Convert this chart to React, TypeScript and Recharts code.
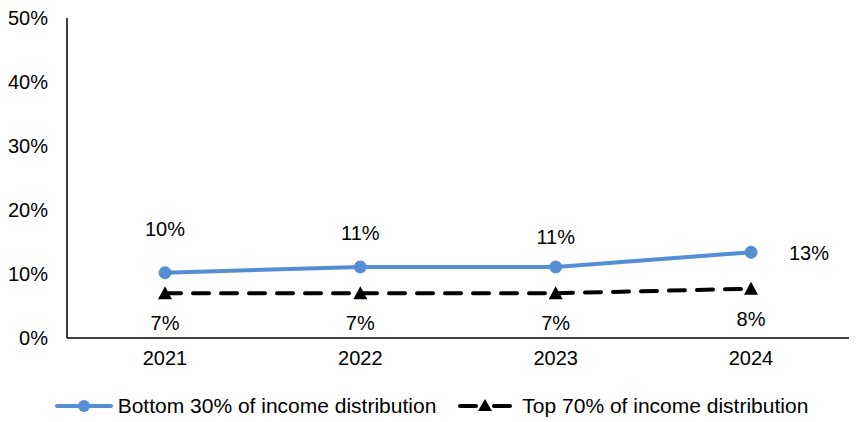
import React from 'react';
import { LineChart, Line, XAxis, YAxis, Legend, LabelList } from 'recharts';

const years = ['2021', '2022', '2023', '2024'];
const bottom30 = [10.2, 11.1, 11.1, 13.4];
const top70 = [7.0, 7.0, 7.0, 7.7];
const yTicks = [0, 10, 20, 30, 40, 50];

const BLUE = '#558ED5';
const FONT = '"Liberation Sans", Arial, sans-serif';

const data = years.map((year, i) => ({ year, bottom: bottom30[i], top: top70[i] }));

// how far above the point each blue label sits (the last one sits to the right)
const aboveGap = [44, 34, 30];

const Triangle = (props: any) => {
  const { cx, cy, size = 7 } = props;
  if (cx == null || cy == null) return null;
  return (
    <polygon
      points={`${cx},${cy - size} ${cx + size},${cy + size * 0.85} ${cx - size},${cy + size * 0.85}`}
      fill="#000"
    />
  );
};

const bottomLabel = (props: any) => {
  const { x, y, value, index } = props;
  const last = index === years.length - 1;
  return (
    <text
      x={last ? x + 38 : x}
      y={last ? y + 1 : y - (aboveGap[index] ?? 40)}
      textAnchor={last ? 'start' : 'middle'}
      dominantBaseline="central"
      fontSize={20}
      fontFamily={FONT}
      fill="#000"
    >
      {Math.round(value)}%
    </text>
  );
};

const topLabel = (props: any) => {
  const { x, y, value } = props;
  return (
    <text x={x} y={y + 30} textAnchor="middle" dominantBaseline="central" fontSize={20} fontFamily={FONT} fill="#000">
      {Math.round(value)}%
    </text>
  );
};

const LegendContent = () => (
  <div style={{ display: 'flex', justifyContent: 'center', alignItems: 'center', height: 30, marginTop: 13, paddingLeft: 14, fontFamily: FONT, fontSize: 21, color: '#000' }}>
    <svg width={58} height={20} style={{ marginRight: 5 }}>
      <line x1={2} y1={10} x2={56} y2={10} stroke={BLUE} strokeWidth={4} strokeLinecap="round" />
      <circle cx={29} cy={10} r={6} fill={BLUE} />
    </svg>
    <span>Bottom 30% of income distribution</span>
    <svg width={54} height={20} style={{ marginLeft: 22, marginRight: 10 }}>
      <line x1={2} y1={10} x2={18} y2={10} stroke="#000" strokeWidth={4} strokeLinecap="round" />
      <line x1={36} y1={10} x2={52} y2={10} stroke="#000" strokeWidth={4} strokeLinecap="round" />
      <polygon points="27,3 34,15 20,15" fill="#000" />
    </svg>
    <span>Top 70% of income distribution</span>
  </div>
);

export default function App() {
  return (
    <div style={{ position: 'absolute', left: 0, top: 0, background: '#fff' }}>
      <LineChart width={856} height={422} data={data} margin={{ top: 18, right: 7, left: 0, bottom: 0 }}>
        <XAxis
          dataKey="year"
          height={40}
          padding={{ left: 98, right: 98 }}
          tickLine={false}
          tickSize={0}
          tickMargin={13}
          axisLine={{ stroke: '#000', strokeWidth: 1.5 }}
          tick={{ fill: '#000', fontSize: 20, fontFamily: FONT }}
        />
        <YAxis
          width={67}
          domain={[0, 50]}
          ticks={yTicks}
          tickFormatter={(v: number) => `${v}%`}
          tickLine={false}
          tickSize={0}
          tickMargin={19}
          axisLine={{ stroke: '#000', strokeWidth: 1.5 }}
          tick={{ fill: '#000', fontSize: 20, fontFamily: FONT }}
        />
        <Legend verticalAlign="bottom" height={44} content={<LegendContent />} />
        <Line
          dataKey="bottom"
          stroke={BLUE}
          strokeWidth={4}
          dot={{ r: 6, fill: BLUE, stroke: BLUE, strokeWidth: 1 }}
          isAnimationActive={false}
        >
          <LabelList dataKey="bottom" content={bottomLabel} />
        </Line>
        <Line
          dataKey="top"
          stroke="#000"
          strokeWidth={4}
          strokeDasharray="16 12"
          strokeLinecap="round"
          dot={<Triangle />}
          isAnimationActive={false}
        >
          <LabelList dataKey="top" content={topLabel} />
        </Line>
      </LineChart>
    </div>
  );
}
